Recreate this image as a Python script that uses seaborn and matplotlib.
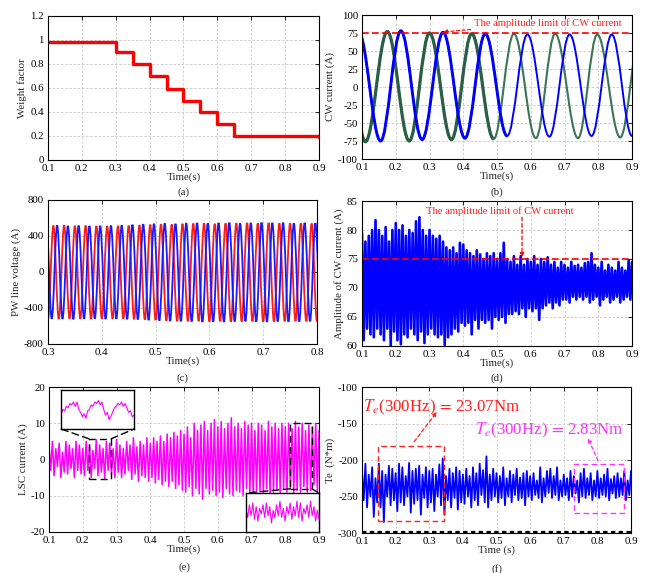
import numpy as np
import matplotlib
matplotlib.use("Agg")
import matplotlib.pyplot as plt
import seaborn as sns
from matplotlib.path import Path
from matplotlib.patches import PathPatch, Rectangle, ConnectionPatch
from matplotlib.ticker import FuncFormatter

# ---------------- data ----------------
# (a) weight factor steps
wf_edges = [0.1, 0.3, 0.35, 0.4, 0.45, 0.5, 0.55, 0.6, 0.65, 0.9]
wf_levels = [0.98, 0.90, 0.80, 0.70, 0.59, 0.49, 0.40, 0.30, 0.20, 0.195]

# (b) CW current, extrema (time, value)
cw_blue_t = [0.09, 0.155, 0.215, 0.278, 0.34, 0.405, 0.465, 0.53, 0.59, 0.655, 0.715, 0.78, 0.84, 0.90, 0.965]
cw_blue_v = [76, -75, 78, -73, 76, -71, 74, -68, 73, -69, 73, -68, 73, -68, 73]
cw_green_t = [0.05, 0.11, 0.175, 0.24, 0.30, 0.365, 0.425, 0.49, 0.55, 0.615, 0.672, 0.74, 0.797, 0.865, 0.925]
cw_green_v = [75, -76, 77, -75, 75, -73, 74, -72, 74, -71, 74, -71, 73, -70, 73]
cw_limit = 75

# (c) PW line voltage, extrema every half period
pw_half_period = 0.01
pw_red_t0 = 0.300
pw_red_v = [-525, 515, -522, 518, -518, 512, -520, 515, -522, 510,
            -518, 508, -520, 512, -518, 515, -525, 520, -530, 525,
            -535, 530, -540, 528, -545, 535, -548, 538, -545, 540,
            -550, 535, -548, 540, -552, 542, -550, 545, -548, 540,
            -552, 545, -550, 540, -548, 542, -545, 540, -548, 538,
            -550]
pw_blue_t0 = 0.297
pw_blue_v = [515, -520, 518, -522, 512, -525, 515, -520, 510, -518,
             512, -522, 515, -520, 518, -525, 525, -528, 530, -535,
             535, -540, 540, -545, 535, -548, 542, -550, 545, -555,
             540, -552, 545, -555, 548, -550, 540, -548, 545, -552,
             548, -555, 545, -550, 548, -552, 540, -550, 545, -548,
             542, -550]

# sampling grid for noisy traces (d), (e), (f): peaks at t, troughs at t+0.005
t_grid = np.round(np.arange(0.1, 0.9001, 0.01), 3)

amp_upper = [79.5, 78, 79, 80, 81.7, 80, 79, 80.5, 78, 80,
             81.2, 80, 80.8, 79, 80, 79.5, 81.5, 82.2, 80, 79,
             80, 79, 78.5, 79, 78, 77, 76.5, 77, 76, 77.8,
             77.5, 76.5, 76, 75.5, 76.5, 75.8, 75, 76, 75.5, 76,
             75, 76, 77.8, 75, 74.5, 75.5, 74, 75.5, 74, 75,
             74.5, 75.5, 74, 75, 74.5, 75.3, 74, 74.5, 73.5, 74.5,
             74, 73.5, 74.5, 73.8, 74, 73.5, 74.3, 74.5, 76, 74,
             73.5, 74.5, 73, 74, 73.5, 73, 74.5, 73.5, 73, 74.8,
             74.5]
amp_lower = [61, 63, 62, 61.5, 63, 62, 61, 63, 60, 62.5,
             61, 60.3, 62, 61.5, 63, 62, 61, 62.5, 60.5, 62,
             63, 62, 61.5, 62, 60.2, 61.5, 62, 63, 62.5, 64,
             63.5, 64, 62, 64.5, 63, 64.5, 64, 64.5, 63, 65,
             64.5, 65, 64, 65.5, 65.5, 66, 65.5, 66.5, 65, 66.5,
             66, 66.5, 64.5, 66.5, 67, 67.5, 66.5, 67.5, 67, 68,
             68, 67.5, 68.5, 68, 68.5, 68, 68.5, 67.5, 68, 68.5,
             67, 68, 68.5, 67.5, 68, 68.5, 67.5, 68, 68.5, 68,
             69]

lsc_upper = [4, 5, 3, 4.5, 2, 5, 4, 3, 5, 4,
             3, 5, 4, 2.5, 5.5, 4, 3, 5, 4.5, 3,
             5.5, 4, 3, 5, 4, 6, 3.5, 5, 4, 6,
             4.5, 6, 5, 6.5, 5, 7, 6, 7.5, 6.5, 8,
             7, 9, 6, 10, 8, 9.5, 10.5, 8, 10, 11,
             9, 10.5, 8.5, 10, 11.5, 9, 10, 8.5, 10.5, 9.5,
             10, 8, 10, 9.5, 8, 10.5, 9, 10, 8.5, 10,
             9, 10, 8.5, 10.5, 9, 10, 8, 9.5, 9, 10,
             8]
lsc_lower = [-3, -4.5, -2, -5, -3.5, -4, -2.5, -5, -3, -4,
             -4.5, -3, -5, -2.5, -4.5, -3.5, -5.5, -3, -4, -5,
             -3.5, -5, -4, -3, -5.5, -4, -6, -4.5, -5, -6,
             -5, -6.5, -5.5, -7, -6, -7.5, -6, -8, -7, -8.5,
             -9, -7.5, -10, -8, -9.5, -11, -8, -9.5, -8.5, -10,
             -9, -10.5, -8, -9.5, -10, -8.5, -9, -10, -8, -9.5,
             -10, -8.5, -9, -9.5, -8, -10, -9, -8.5, -9.5, -8,
             -9, -8, -9.5, -8.5, -9, -7.5, -9, -8.5, -7, -9,
             -8]
lsc_inset1 = [1, 3, 2.5, 4, 3.5, 5, 4.5, 5.5, 4, 5.5, 3, 2, 0.5, 1.5, 0, 2.5, 3, 4.5, 4, 5.5,
              5, 6, 4.5, 5.5, 3, 1, 2, -0.5, 0.5, 2, 3.5, 4, 5, 4.5, 5.5, 4, 5, 3.5, 2, 2.5, 0.5, 1]
lsc_inset2 = [2, -3, 4, -2, 5, -4, 3, -5, 2, -1, 4, -3, 5, -2, 3, -6, 1, -3, 4, -2, 6, -3,
              2, -5, 3, -1, 5, -4, 3, -2, 6, -3, 5, -5, 2, -1, 4, -3, 6, -2, 3, -5, 1, -4]

te_upper = [-215, -205, -220, -210, -225, -205, -215, -220, -208, -212,
            -218, -205, -210, -222, -204, -215, -212, -208, -220, -210,
            -215, -212, -220, -206, -198, -222, -212, -218, -210, -215,
            -220, -212, -222, -210, -218, -205, -214, -195, -220, -212,
            -218, -222, -210, -225, -215, -220, -212, -224, -218, -215,
            -222, -218, -228, -210, -225, -215, -212, -222, -210, -228,
            -220, -225, -215, -222, -228, -218, -212, -225, -218, -228,
            -215, -225, -220, -212, -226, -222, -218, -225, -215, -228,
            -215]
te_lower = [-255, -265, -250, -278, -258, -265, -285, -250, -262, -255,
            -270, -258, -262, -250, -272, -260, -255, -275, -252, -265,
            -258, -270, -250, -262, -275, -255, -265, -252, -268, -258,
            -260, -250, -265, -255, -262, -248, -258, -265, -255, -250,
            -258, -252, -262, -250, -258, -248, -255, -252, -262, -250,
            -255, -248, -252, -258, -250, -245, -252, -248, -255, -250,
            -248, -255, -250, -246, -258, -250, -252, -248, -255, -250,
            -252, -248, -250, -255, -246, -252, -250, -248, -255, -248,
            -245]

time_ticks = [0.1, 0.2, 0.3, 0.4, 0.5, 0.6, 0.7, 0.8, 0.9]

# ---------------- style ----------------
FS = 7.8
sns.set_style("white")
plt.rcParams["font.family"] = ["Liberation Serif", "DejaVu Serif"]
plt.rcParams["mathtext.fontset"] = "stix"
plt.rcParams["font.size"] = FS
plt.rcParams["axes.unicode_minus"] = False

fig = plt.figure(figsize=(6.46, 5.73), dpi=100)
fmt = FuncFormatter(lambda v, p: "%g" % round(v, 6))


def style_ax(ax, xlim, ylim, xticks, yticks, xlabel, ylabel, caption, cap_y):
    ax.set_xlim(xlim)
    ax.set_ylim(ylim)
    ax.set_xticks(xticks)
    ax.set_yticks(yticks)
    ax.xaxis.set_major_formatter(fmt)
    ax.yaxis.set_major_formatter(fmt)
    ax.set_axisbelow(True)
    ax.grid(True, color="#c8c8c8", ls=(0, (3, 2)), lw=0.6)
    ax.tick_params(direction="in", top=True, right=True, length=3, width=0.6,
                   labelsize=FS, pad=3, colors="black")
    for s in ax.spines.values():
        s.set_linewidth(0.8)
        s.set_color("black")
        s.set_visible(True)
    ax.set_xlabel(xlabel, labelpad=-0.5, fontsize=FS)
    ax.set_ylabel(ylabel, labelpad=2, fontsize=FS)
    ax.text(0.5, cap_y, caption, transform=ax.transAxes, ha="center", va="center", fontsize=FS)


def wave_path(ts, vs):
    verts = [(ts[0], vs[0])]
    codes = [Path.MOVETO]
    for i in range(len(ts) - 1):
        d = (ts[i + 1] - ts[i]) * 0.3634
        verts += [(ts[i] + d, vs[i]), (ts[i + 1] - d, vs[i + 1]), (ts[i + 1], vs[i + 1])]
        codes += [Path.CURVE4] * 3
    return Path(verts, codes)


def zigzag(t, up, lo):
    x = np.column_stack([t, np.round(t + 0.005, 4)]).ravel()
    y = np.column_stack([up, lo]).ravel()
    return x, y


# ---------------- (a) ----------------
ax_a = fig.add_axes([0.0743, 0.7208, 0.4195, 0.2513])
sns.lineplot(x=wf_edges, y=wf_levels, drawstyle="steps-post", estimator=None, sort=False,
             color="#ff0000", lw=2.4, ax=ax_a)
style_ax(ax_a, (0.1, 0.9), (0, 1.2), time_ticks, [0, 0.2, 0.4, 0.6, 0.8, 1.0, 1.2],
         "Time(s)", "Weight factor", "(a)", -0.225)

# ---------------- (b) ----------------
ax_b = fig.add_axes([0.5604, 0.7225, 0.418, 0.2513])
ax_b.add_patch(PathPatch(wave_path(cw_green_t, cw_green_v), fill=False, edgecolor="#3a7556", lw=1.5))
ax_b.add_patch(PathPatch(wave_path(cw_green_t[:8], cw_green_v[:8]), fill=False, edgecolor="#2b5f45", lw=2.3))
ax_b.add_patch(PathPatch(wave_path(cw_blue_t, cw_blue_v), fill=False, edgecolor="#0000ff", lw=1.4))
ax_b.add_patch(PathPatch(wave_path(cw_blue_t[:8], cw_blue_v[:8]), fill=False, edgecolor="#0000ff", lw=2.1))
ax_b.axhline(cw_limit, color="#ff0000", ls=(0, (4, 2)), lw=1.2)
ax_b.annotate("The amplitude limit of CW current", xy=(0.34, 76.5), xytext=(0.432, 89),
              ha="left", va="center", color="#ff2020", fontsize=7.6,
              arrowprops=dict(arrowstyle="-|>", color="#ff0000", lw=0.8, ls=(0, (3, 2)),
                              mutation_scale=6, shrinkA=0, shrinkB=0))
style_ax(ax_b, (0.1, 0.9), (-100, 100), time_ticks, list(range(-100, 101, 25)),
         "Time(s)", "CW current (A)", "(b)", -0.23)

# ---------------- (c) ----------------
ax_c = fig.add_axes([0.0743, 0.3997, 0.4164, 0.2513])
red_t = [pw_red_t0 + pw_half_period * k for k in range(len(pw_red_v))]
blue_t = [pw_blue_t0 + pw_half_period * k for k in range(len(pw_blue_v))]
ax_c.add_patch(PathPatch(wave_path(red_t, pw_red_v), fill=False, edgecolor="#ff1a1a", lw=1.3))
ax_c.add_patch(PathPatch(wave_path(blue_t, pw_blue_v), fill=False, edgecolor="#1a1aff", lw=1.3))
style_ax(ax_c, (0.3, 0.8), (-800, 800), [0.3, 0.4, 0.5, 0.6, 0.7, 0.8], [-800, -400, 0, 400, 800],
         "Time(s)", "PW line voltage (A)", "(c)", -0.24)

# ---------------- (d) ----------------
ax_d = fig.add_axes([0.5604, 0.3962, 0.418, 0.2530])
dx, dy = zigzag(t_grid, amp_upper, amp_lower)
sns.lineplot(x=dx, y=dy, estimator=None, sort=False, color="#0000ff", lw=1.9, ax=ax_d)
ax_d.axhline(cw_limit, color="#ff0000", ls=(0, (4, 2)), lw=1.2)
ax_d.text(0.509, 83.3, "The amplitude limit of CW current", ha="center", va="center",
          color="#ff2020", fontsize=7.6)
ax_d.annotate("", xy=(0.574, 75.3), xytext=(0.574, 82.2),
              arrowprops=dict(arrowstyle="-|>", color="#ff0000", lw=0.9, ls=(0, (3, 2)),
                              mutation_scale=6, shrinkA=0, shrinkB=0))
style_ax(ax_d, (0.1, 0.9), (60, 85), time_ticks, [60, 65, 70, 75, 80, 85],
         "Time(s)", "Amplitude of CW current (A)", "(d)", -0.225)

# ---------------- (e) ----------------
ax_e = fig.add_axes([0.0759, 0.0716, 0.418, 0.2530])
ex, ey = zigzag(t_grid, lsc_upper, lsc_lower)
sns.lineplot(x=ex, y=ey, estimator=None, sort=False, color="#ff00ff", lw=1.1, ax=ax_e)
style_ax(ax_e, (0.1, 0.9), (-20, 20), time_ticks, [-20, -10, 0, 10, 20],
         "Time(s)", "LSC current (A)", "(e)", -0.24)
rect1 = (0.2185, -5.4, 0.0655, 11.1)
rect2 = (0.814, -8.1, 0.065, 18.2)
for (rx, ry, rw, rh) in (rect1, rect2):
    ax_e.add_patch(Rectangle((rx, ry), rw, rh, fill=False, edgecolor="black", lw=1.0,
                             ls=(0, (5, 3)), zorder=5))

ins1 = fig.add_axes([0.0944, 0.2513, 0.1130, 0.0681])
ins1.plot(range(len(lsc_inset1)), lsc_inset1, color="#ff00ff", lw=0.8)
ins1.set_xlim(0, len(lsc_inset1) - 1)
ins1.set_ylim(-3.7, 9.6)
ins2 = fig.add_axes([0.3808, 0.0716, 0.1130, 0.0681])
ins2.plot(range(len(lsc_inset2)), lsc_inset2, color="#ff00ff", lw=0.8)
ins2.set_xlim(0, len(lsc_inset2) - 1)
ins2.set_ylim(-10.9, 10.5)
for ins in (ins1, ins2):
    ins.set_xticks([])
    ins.set_yticks([])
    ins.set_facecolor("white")
    for s in ins.spines.values():
        s.set_linewidth(1.0)
        s.set_color("black")
        s.set_visible(True)

for xyA, xyB, tgt in [((rect1[0], rect1[1] + rect1[3]), (0, 0), ins1),
                      ((rect1[0] + rect1[2], rect1[1] + rect1[3]), (1, 0), ins1),
                      ((rect2[0], rect2[1]), (0, 1), ins2),
                      ((rect2[0] + rect2[2], rect2[1]), (1, 1), ins2)]:
    con = ConnectionPatch(xyA=xyA, coordsA=ax_e.transData, xyB=xyB, coordsB=tgt.transAxes,
                          color="black", lw=1.0, ls=(0, (5, 3)))
    fig.add_artist(con)

# ---------------- (f) ----------------
ax_f = fig.add_axes([0.5604, 0.0698, 0.4164, 0.2548])
fx, fy = zigzag(t_grid, te_upper, te_lower)
sns.lineplot(x=fx, y=fy, estimator=None, sort=False, color="#0000ff", lw=1.3, ax=ax_f)
ax_f.axhline(-299, color="black", lw=1.6, ls=(0, (2, 1.5)))
ax_f.add_patch(Rectangle((0.148, -283.5), 0.196, 102.5, fill=False, edgecolor="#ff2020",
                         lw=1.0, ls=(0, (4, 2.5)), zorder=5))
ax_f.add_patch(Rectangle((0.73, -272.6), 0.149, 67.1, fill=False, edgecolor="#ff33ff",
                         lw=1.0, ls=(0, (4, 2.5)), zorder=5))
ax_f.text(0.103, -127.4, r"$T_e$(300Hz)$\,=\,$23.07Nm", color="#ff2020", fontsize=12.2,
          ha="left", va="center")
ax_f.text(0.436, -160, r"$T_e$(300Hz)$\,=\,$2.83Nm", color="#ff33ff", fontsize=12.2,
          ha="left", va="center")
ax_f.annotate("", xy=(0.323, -134), xytext=(0.255, -175),
              arrowprops=dict(arrowstyle="-|>", color="#ff2020", lw=0.9, ls=(0, (3, 2)),
                              mutation_scale=6, shrinkA=0, shrinkB=0))
ax_f.annotate("", xy=(0.772, -170), xytext=(0.802, -201),
              arrowprops=dict(arrowstyle="-|>", color="#ff33ff", lw=0.9, ls=(0, (3, 2)),
                              mutation_scale=6, shrinkA=0, shrinkB=0))
style_ax(ax_f, (0.1, 0.9), (-300, -100), time_ticks, [-300, -250, -200, -150, -100],
         "Time (s)", "Te  (N*m)", "(f)", -0.245)

fig.savefig("out.png", dpi=100)
